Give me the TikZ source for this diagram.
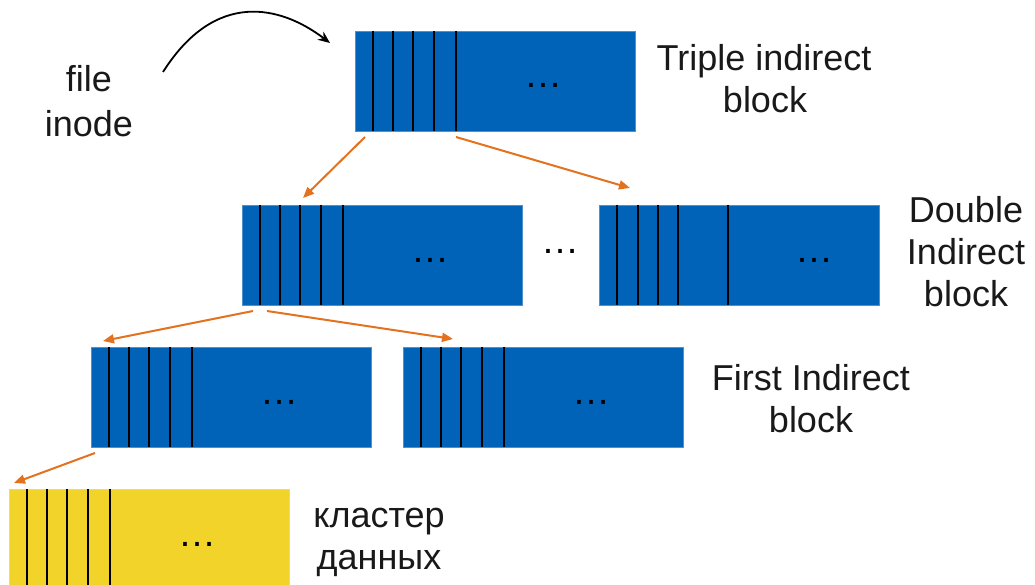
\documentclass[tikz,border=0pt]{standalone}
\usepackage{fontspec}
\setmainfont{Liberation Sans}
\usetikzlibrary{arrows.meta}
\definecolor{blk}{RGB}{0,99,183}
\definecolor{ylw}{RGB}{242,211,42}
\definecolor{org}{RGB}{227,113,30}
\definecolor{txt}{RGB}{25,25,25}
\tikzset{
  blueblock/.style={rectangle, fill=blk, draw=blk!70!white, line width=0.6pt, minimum width=280pt, minimum height=100pt, inner sep=0pt, outer sep=0pt},
  yellowblock/.style={blueblock, fill=ylw, draw=ylw!80!white},
  divider/.style={draw=black, line width=2pt},
  oarrow/.style={draw=org, line width=2pt, -{Triangle[length=11pt,width=9pt]}},
  karrow/.style={draw=black, line width=1.8pt, -{Stealth[length=12pt,width=10pt]}},
  lbl/.style={font=\fontsize{36}{42}\selectfont, text=txt, inner sep=0pt, anchor=base},
  dotsl/.style={font=\fontsize{38}{42}\selectfont, text=black, inner sep=0pt, anchor=base}
}
\begin{document}
\begin{tikzpicture}[x=1pt,y=-1pt]
\useasboundingbox (0,0) rectangle (1035,585);
% blocks
\node[blueblock, anchor=north west] (T) at (355,31) {};
\node[blueblock, anchor=north west] (D1) at (242,205) {};
\node[blueblock, anchor=north west] (D2) at (599,205) {};
\node[blueblock, anchor=north west] (F1) at (91,347) {};
\node[blueblock, anchor=north west] (F2) at (403,347) {};
\node[yellowblock, anchor=north west] (Y) at (9,489) {};
% dividers
\foreach \b in {T,D1,F1,F2,Y}{
  \foreach \o in {18,38,58,79,101}{
    \draw[divider] ([xshift=\o pt]\b.north west) -- ([xshift=\o pt]\b.south west);
  }
}
\foreach \o in {18,39,59,79,129}{
  \draw[divider] ([xshift=\o pt]D2.north west) -- ([xshift=\o pt]D2.south west);
}
% ellipses
\node[dotsl] (tdots) at ([shift={(48,7)}]T.center) {…};
\node[dotsl] (d1dots) at ([shift={(48,7)}]D1.center) {…};
\node[dotsl] (d2dots) at ([shift={(75,7)}]D2.center) {…};
\node[dotsl] (f1dots) at ([shift={(48,7)}]F1.center) {…};
\node[dotsl] (f2dots) at ([shift={(48,7)}]F2.center) {…};
\node[dotsl] (ydots) at ([shift={(48,7)}]Y.center) {…};
\node[dotsl] (mdots) at (560,254) {…};
% orange arrows
\draw[oarrow] ([shift={(10,6)}]T.south west) -- ([shift={(61,-7)}]D1.north west);
\draw[oarrow] ([shift={(101,6)}]T.south west) -- ([shift={(31,-17)}]D2.north west);
\draw[oarrow] ([shift={(11,6)}]D1.south west) -- ([shift={(12,-6)}]F1.north west);
\draw[oarrow] ([shift={(25,6)}]D1.south west) -- ([shift={(50,-8)}]F2.north west);
\draw[oarrow] ([shift={(4,6)}]F1.south west) -- ([shift={(5,-6)}]Y.north west);
% labels
\node[lbl] (file) at (89,92) {file};
\node[lbl] (inode) at (89,137) {inode};
\node[lbl] (tl1) at (764,71) {Triple indirect};
\node[lbl] (tl2) at (765,113) {block};
\node[lbl] (dl1) at (966,223) {Double};
\node[lbl] (dl2) at (966,265) {Indirect};
\node[lbl] (dl3) at (966,306) {block};
\node[lbl] (fl1) at (811,390) {First Indirect};
\node[lbl] (fl2) at (811,432) {block};
\node[lbl] (kl1) at (379,527) {кластер};
\node[lbl] (kl2) at (379,569) {данных};
% curved arrow
\coordinate (cs) at (163,72);
\coordinate (ce) at (330,43);
\draw[karrow] (cs) .. controls (215,-10) and (280,5) .. (ce);
\end{tikzpicture}
\end{document}
